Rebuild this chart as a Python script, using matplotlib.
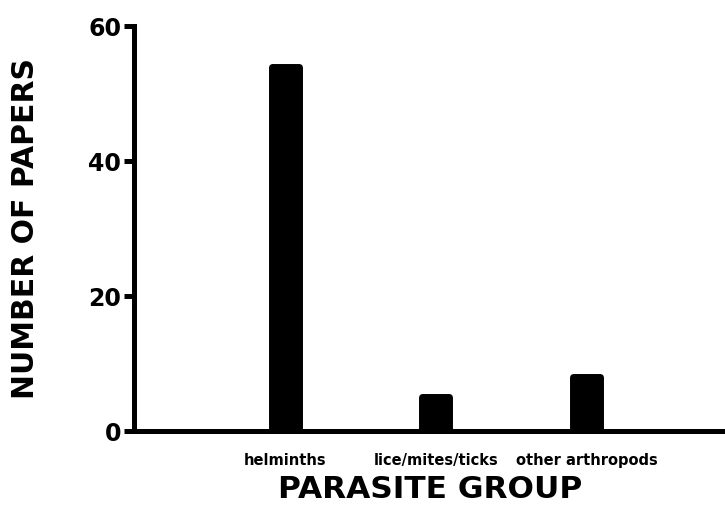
import matplotlib
matplotlib.use('Agg')
import matplotlib.pyplot as plt

groups = ['helminths', 'lice/mites/ticks', 'other arthropods']
papers = [54, 5, 8]
positions = [1, 2, 3]

plt.rcParams['font.family'] = ['DejaVu Sans']
plt.rcParams['font.weight'] = 'bold'

fig = plt.figure(figsize=(7.25, 5.13), dpi=100)
ax = fig.add_axes([0.1855, 0.1598, 0.8145, 0.7895])

# thick round-joined edge gives the rounded tops of the bars
ax.bar(positions, papers, width=0.18, color='black',
       edgecolor='black', linewidth=5, joinstyle='round')

ax.set_xlim(0, 3.92)
ax.set_ylim(0, 60)
ax.set_yticks([0, 20, 40, 60])
ax.set_xticks(positions)
ax.set_xticklabels(groups, fontsize=10.5, fontweight='bold')

for side in ['top', 'right']:
    ax.spines[side].set_visible(False)
for side in ['left', 'bottom']:
    ax.spines[side].set_linewidth(3.6)
ax.spines['left'].set_capstyle('projecting')

ax.tick_params(axis='y', length=7.5, width=3.6, labelsize=17, pad=2)
ax.tick_params(axis='x', length=0, pad=16)
for lab in ax.get_yticklabels():
    lab.set_fontweight('bold')

ax.set_ylabel('NUMBER OF PAPERS', fontsize=21.5, fontweight='bold', labelpad=35)
ax.set_xlabel('PARASITE GROUP', fontsize=22.5, fontweight='bold', labelpad=5)

fig.savefig('out.png', dpi=100)
